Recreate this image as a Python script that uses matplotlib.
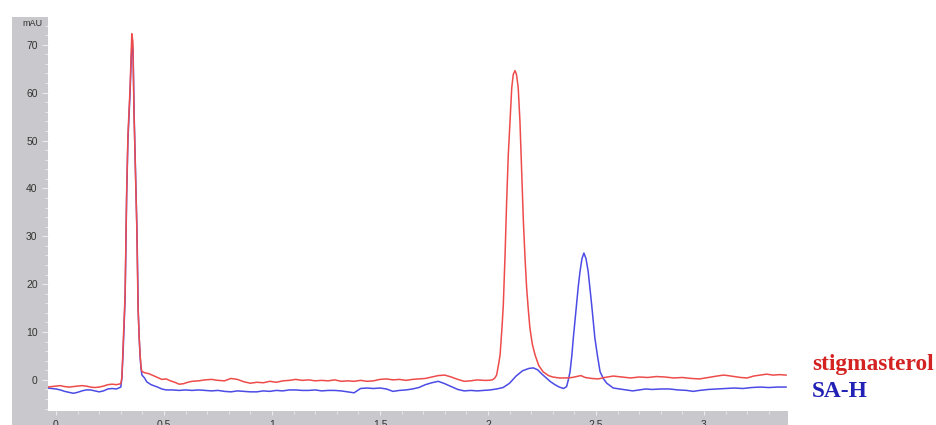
import matplotlib
matplotlib.use("Agg")
import matplotlib.pyplot as plt
from matplotlib.patches import Rectangle
from matplotlib.ticker import MultipleLocator

# retention time (min) and detector response (mAU) for the two runs
red_t = [-0.04, -0.02, 0.00, 0.02, 0.04, 0.06, 0.08, 0.10, 0.12, 0.14, 0.16, 0.18,
         0.20, 0.22, 0.24, 0.26, 0.28, 0.30,
         0.305, 0.31, 0.315, 0.32, 0.327, 0.333, 0.338, 0.343, 0.348, 0.351, 0.356,
         0.361, 0.367, 0.374, 0.380, 0.385, 0.389, 0.393, 0.397,
         0.41, 0.43, 0.45, 0.47, 0.49, 0.51, 0.53, 0.55, 0.57, 0.59, 0.61, 0.63,
         0.66, 0.69, 0.72, 0.75, 0.78, 0.81, 0.84, 0.87, 0.90, 0.93, 0.96, 0.99,
         1.02, 1.05, 1.08, 1.11, 1.14, 1.17, 1.20, 1.23, 1.26, 1.29, 1.32, 1.35,
         1.38, 1.41, 1.44, 1.47, 1.50, 1.53, 1.56, 1.59, 1.62, 1.65, 1.68, 1.71,
         1.74, 1.77, 1.80, 1.83, 1.86, 1.89, 1.92, 1.95, 1.98, 2.00,
         2.02, 2.03, 2.04, 2.05, 2.056, 2.065, 2.071, 2.079, 2.086, 2.094, 2.102,
         2.110, 2.117, 2.125, 2.132, 2.140, 2.148, 2.156, 2.164, 2.172, 2.179,
         2.187, 2.194, 2.205, 2.218, 2.235, 2.255, 2.28, 2.30,
         2.33, 2.36, 2.39, 2.42, 2.43, 2.45, 2.48, 2.51, 2.54, 2.58, 2.62, 2.66,
         2.70, 2.74, 2.78, 2.82, 2.86, 2.90, 2.94, 2.98, 3.02, 3.06, 3.09, 3.11,
         3.14, 3.17, 3.20, 3.23, 3.26, 3.29, 3.32, 3.35, 3.38]
red_mau = [-1.5, -1.4, -1.3, -1.2, -1.4, -1.5, -1.4, -1.3, -1.2, -1.3, -1.5, -1.6,
           -1.5, -1.3, -1.0, -0.9, -1.0, -0.8,
           0.5, 6.0, 12.0, 18.0, 39.0, 51.0, 56.0, 61.0, 68.0, 72.3, 70.6,
           56.0, 45.0, 32.0, 15.0, 9.0, 5.6, 3.0, 1.8,
           1.5, 1.3, 0.9, 0.5, 0.1, 0.2, -0.2, -0.5, -0.9, -0.8, -0.5, -0.3,
           -0.2, 0.0, 0.1, -0.1, -0.2, 0.3, 0.1, -0.4, -0.7, -0.5, -0.6, -0.3,
           -0.5, -0.2, -0.1, 0.1, -0.1, 0.0, -0.2, -0.1, -0.2, 0.0, -0.3, -0.2,
           -0.3, -0.1, -0.3, -0.2, 0.1, 0.2, 0.0, 0.1, -0.1, 0.1, 0.2, 0.3,
           0.6, 0.9, 1.0, 0.6, 0.1, -0.3, -0.2, 0.0, -0.1, -0.1,
           0.0, 0.3, 1.0, 3.5, 5.2, 11.0, 15.7, 26.0, 36.6, 47.0, 54.0,
           61.0, 63.8, 64.6, 63.8, 61.0, 54.0, 43.5, 33.0, 25.0, 19.2,
           14.5, 10.9, 7.5, 5.2, 3.0, 1.7, 0.9, 0.6,
           0.4, 0.4, 0.5, 0.8, 0.9, 0.5, 0.3, 0.2, 0.5, 0.8, 0.6, 0.4,
           0.6, 0.5, 0.7, 0.6, 0.4, 0.5, 0.3, 0.2, 0.5, 0.8, 1.0, 0.9,
           0.7, 0.5, 0.4, 0.8, 1.0, 1.2, 1.0, 1.1, 1.0]

blue_t = [-0.04, -0.02, 0.00, 0.02, 0.04, 0.06, 0.08, 0.10, 0.12, 0.14, 0.16, 0.18,
          0.20, 0.22, 0.24, 0.26, 0.28, 0.30,
          0.305, 0.31, 0.315, 0.32, 0.327, 0.333, 0.338, 0.343, 0.348, 0.352, 0.357,
          0.362, 0.368, 0.375, 0.381, 0.386, 0.390, 0.394, 0.398,
          0.41, 0.42, 0.44, 0.47, 0.49, 0.51, 0.54, 0.57, 0.60, 0.63, 0.66, 0.69,
          0.72, 0.75, 0.78, 0.81, 0.84, 0.87, 0.90, 0.93, 0.96, 0.99, 1.02, 1.05,
          1.08, 1.11, 1.14, 1.17, 1.20, 1.23, 1.26, 1.29, 1.32, 1.35, 1.38, 1.41,
          1.44, 1.47, 1.50, 1.53, 1.56, 1.59, 1.62, 1.65, 1.68, 1.71, 1.74, 1.77,
          1.80, 1.83, 1.86, 1.89, 1.92, 1.95, 1.98, 2.01, 2.04, 2.07, 2.10, 2.13,
          2.16, 2.19, 2.21, 2.23, 2.25, 2.27, 2.29, 2.31, 2.33, 2.35,
          2.364, 2.372, 2.380, 2.388, 2.395, 2.403, 2.410, 2.418, 2.426, 2.435,
          2.444, 2.454, 2.464, 2.472, 2.480, 2.488, 2.495, 2.507, 2.519, 2.535,
          2.55, 2.58, 2.61,
          2.64, 2.67, 2.70, 2.73, 2.76, 2.80, 2.84, 2.88, 2.92, 2.95, 2.98, 3.02,
          3.06, 3.10, 3.14, 3.18, 3.22, 3.26, 3.30, 3.34, 3.38]
blue_mau = [-1.7, -1.8, -1.9, -2.1, -2.4, -2.6, -2.8, -2.6, -2.3, -2.1, -2.1, -2.3,
            -2.5, -2.3, -1.9, -1.8, -1.9, -1.5,
            0.3, 5.0, 11.0, 17.0, 38.0, 50.0, 55.0, 60.0, 66.5, 70.5, 68.5,
            55.0, 44.0, 31.0, 14.0, 8.0, 4.5, 2.2, 1.0,
            0.4, -0.4, -1.0, -1.5, -1.9, -2.1, -2.1, -2.2, -2.1, -2.2, -2.1, -2.2,
            -2.3, -2.2, -2.4, -2.5, -2.3, -2.4, -2.5, -2.5, -2.3, -2.4, -2.2, -2.3,
            -2.1, -2.1, -2.2, -2.2, -2.1, -2.3, -2.2, -2.2, -2.3, -2.5, -2.7, -1.8,
            -1.7, -1.8, -1.7, -1.9, -2.4, -2.2, -2.1, -1.9, -1.6, -1.0, -0.6, -0.3,
            -0.8, -1.4, -2.0, -2.3, -2.2, -2.3, -2.2, -2.1, -1.9, -1.6, -0.7, 0.8,
            1.9, 2.4, 2.5, 2.1, 1.2, 0.4, -0.4, -1.0, -1.5, -1.8,
            -1.4, 0.0, 1.7, 5.0, 8.7, 12.5, 15.7, 19.5, 22.6, 25.3,
            26.5, 25.3, 22.6, 19.2, 15.7, 12.0, 8.7, 5.0, 1.7, 0.2,
            -0.7, -1.7, -1.9,
            -2.1, -2.3, -2.1, -1.9, -2.0, -1.9, -1.9, -2.1, -2.2, -2.4, -2.2, -2.0,
            -1.9, -1.8, -1.7, -1.8, -1.6, -1.5, -1.6, -1.5, -1.5]

W, H = 936, 425
band = '#c9c9cd'
tick_col = '#ececf0'
label_col = '#333333'

fig = plt.figure(figsize=(W / 100, H / 100), dpi=100)

# grey scale bands of the instrument software, kept behind the axes
fig.patches.append(Rectangle((12 / W, 0), 36 / W, 408 / H, transform=fig.transFigure,
                             facecolor=band, edgecolor='none', zorder=-5))
fig.patches.append(Rectangle((48 / W, 0), 740 / W, 14 / H, transform=fig.transFigure,
                             facecolor=band, edgecolor='none', zorder=-5))

ax = fig.add_axes([48 / W, 14 / H, 740 / W, 394 / H])
ax.plot(red_t, red_mau, color='#ee4b4b', lw=1.1, zorder=3)
ax.plot(blue_t, blue_mau, color='#4b4be6', lw=1.1, zorder=2)

ax.set_xlim(-0.037, 3.389)
ax.set_ylim(-6.5, 75.8)
for s in ax.spines.values():
    s.set_visible(False)

ax.xaxis.set_major_locator(MultipleLocator(0.5))
ax.xaxis.set_minor_locator(MultipleLocator(0.1))
ax.yaxis.set_major_locator(MultipleLocator(10))
ax.yaxis.set_minor_locator(MultipleLocator(2))
ax.set_xticks([0, 0.5, 1, 1.5, 2, 2.5, 3])
ax.set_xticklabels(['0', '0.5', '1', '1.5', '2', '2.5', '3'])
ax.tick_params(which='both', direction='out', color=tick_col, labelcolor=label_col,
               labelsize=7.5)
ax.tick_params(axis='x', which='major', length=3, pad=3.5)
ax.tick_params(axis='x', which='minor', length=2)
ax.tick_params(axis='y', which='major', length=4, pad=3.5)
ax.tick_params(axis='y', which='minor', length=2.5)
for lab in ax.get_xticklabels() + ax.get_yticklabels():
    lab.set_family('Liberation Sans')

fig.text(32 / W, 1 - 23 / H, 'mAU', ha='center', va='center', fontsize=6.5,
         color=label_col, family='Liberation Sans')

# series names
fig.text(812 / W, 1 - 370 / H, 'stigmasterol', ha='left', va='baseline',
         fontsize=16.8, fontweight='bold', color='#d42222', family='Liberation Serif')
fig.text(812 / W, 1 - 397 / H, 'SA-H', ha='left', va='baseline',
         fontsize=16.8, fontweight='bold', color='#2222b4', family='Liberation Serif')

fig.savefig('out.png', dpi=100)
